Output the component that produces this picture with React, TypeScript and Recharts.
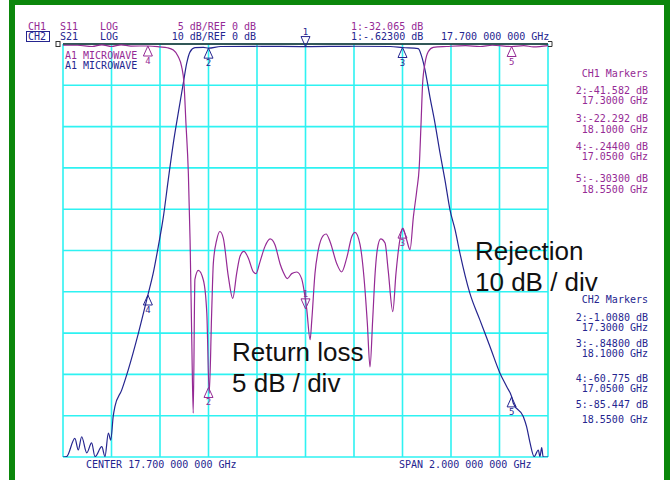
import { LineChart, Line, XAxis, YAxis, CartesianGrid, ReferenceLine, ReferenceDot } from "recharts";

// frequency axis (GHz), center 17.7, span 2
const freqTicks = [16.7, 16.9, 17.1, 17.3, 17.5, 17.7, 17.9, 18.1, 18.3, 18.5, 18.7];
const s11Ticks = [0, -5, -10, -15, -20, -25, -30, -35, -40, -45, -50];
const s21Ticks = [0, -10, -20, -30, -40, -50, -60, -70, -80, -90, -100];

// CH1 S11 (return loss), dB
const s11Freq = [
  16.7, 16.76, 16.82, 16.86, 16.9, 16.94, 16.98, 17.05, 17.1, 17.13, 17.155, 17.175, 17.189, 17.199,
  17.207, 17.217, 17.224, 17.231, 17.237, 17.244, 17.258, 17.279, 17.293, 17.303, 17.313, 17.32,
  17.334, 17.347, 17.361, 17.382, 17.4, 17.416, 17.43, 17.446, 17.464, 17.485, 17.496, 17.512,
  17.533, 17.554, 17.574, 17.595, 17.608, 17.625, 17.643, 17.664, 17.684, 17.698, 17.705, 17.719,
  17.726, 17.739, 17.753, 17.773, 17.785, 17.801, 17.829, 17.849, 17.87, 17.891, 17.904, 17.925,
  17.941, 17.955, 17.966, 17.977, 17.987, 17.996, 18.01, 18.028, 18.041, 18.06, 18.073, 18.087,
  18.101, 18.117, 18.131, 18.145, 18.159, 18.169, 18.176, 18.183, 18.193, 18.206, 18.227, 18.282,
  18.36, 18.42, 18.47, 18.55, 18.6, 18.64, 18.7,
];
const s11Db = [
  -0.15, -0.15, -0.3, -0.1, -0.3, -0.1, -0.25, -0.24, -0.35, -0.45, -0.73, -1.5, -2.7, -4.8,
  -9.6, -15.7, -23.7, -35.8, -44.7, -28.5, -27.4, -28.6, -32.6, -42.3, -32.6, -26.5,
  -23.7, -22.7, -23.5, -28.2, -30.8, -27.8, -25.7, -25.1, -25.9, -27.6, -27.8, -26.4,
  -24.5, -23.6, -24.3, -26.6, -27.6, -28.4, -27.8, -27.6, -28.4, -30.6, -32.1, -35.8,
  -33.4, -27.8, -24.9, -23.2, -23.0, -23.9, -26.6, -27.6, -25.9, -23.3, -22.8, -24.3,
  -28.2, -33.8, -39.1, -33.4, -27.8, -24.9, -23.6, -24.1, -27.4, -32.4, -27.8, -24.1,
  -22.3, -23.7, -24.9, -20.9, -17.7, -14.9, -10, -4.8, -2.3, -0.93, -0.4, -0.3,
  -0.2, -0.3, -0.15, -0.3, -0.2, -0.35, -0.2,
];

// CH2 S21 (rejection), dB
const s21Freq = [
  16.7, 16.715, 16.749, 16.763, 16.777, 16.798, 16.818, 16.832, 16.86, 16.873, 16.887, 16.897,
  16.907, 16.914, 16.942, 16.969, 17.011, 17.05, 17.072, 17.093, 17.114, 17.134, 17.155, 17.175,
  17.196, 17.21, 17.224, 17.244, 17.279, 17.3, 17.35, 17.5, 17.7, 17.9, 18.05, 18.1, 18.165,
  18.179, 18.193, 18.213, 18.234, 18.255, 18.275, 18.296, 18.317, 18.337, 18.378, 18.419, 18.461,
  18.502, 18.53, 18.55, 18.557, 18.598, 18.612, 18.626, 18.643, 18.66, 18.667, 18.674, 18.68, 18.7,
];
const s21Db = [
  -100, -99.9, -95.5, -98.3, -95.1, -99.0, -96.6, -99.9, -97.5, -99.9, -94.2, -95.9,
  -90.2, -87.8, -83.8, -78.9, -70, -60.8, -55.5, -49, -41.8, -32.9, -24, -16.8,
  -9.5, -4.7, -1.9, -0.9, -0.8, -1.0, -0.6, -0.55, -0.62, -0.55, -0.6, -0.85, -1.1,
  -3, -6.3, -12.8, -19.2, -26.5, -32.9, -40.2, -45, -50.7, -60.4, -66.8, -73.3,
  -79.7, -83, -85.4, -87, -90.2, -92.7, -96.6, -99.9, -98.3, -99.9, -97.7, -100, -100,
];

// markers 1..5
const markerIds = ["1", "2", "3", "4", "5"];
const markerFreq = [17.7, 17.3, 18.1, 17.05, 18.55];
const s11Marker = [-32.065, -41.582, -22.292, -0.244, -0.303];
const s21Marker = [-0.623, -1.008, -0.848, -60.775, -85.447];

const s11Data = s11Freq.map((f, i) => ({ f, db: s11Db[i] }));
const s21Data = s21Freq.map((f, i) => ({ f, db: s21Db[i] }));

const PURPLE = "#952a95";
const NAVY = "#25258f";
const CYAN = "#2ef2f2";
const MONO = "'DejaVu Sans Mono', monospace";

function Marker(props: any) {
  const { cx, cy, id, color, active } = props;
  if (cx == null || cy == null) return null;
  if (active) {
    return (
      <g>
        <path d={`M${cx},${cy} L${cx - 4.5},${cy - 10} L${cx + 4.5},${cy - 10} Z`} fill="none" stroke={color} strokeWidth={1} />
        <text x={cx} y={cy - 12} fontSize={9} fontFamily={MONO} fill={color} textAnchor="middle">{id}</text>
      </g>
    );
  }
  return (
    <g>
      <path d={`M${cx},${cy} L${cx - 4.5},${cy + 10} L${cx + 4.5},${cy + 10} Z`} fill="none" stroke={color} strokeWidth={1} />
      <text x={cx} y={cy + 18} fontSize={9} fontFamily={MONO} fill={color} textAnchor="middle">{id}</text>
    </g>
  );
}

export default function App() {
  const t = (x: number, y: number, s: string, color: string, anchor: "start" | "end" = "start") => (
    <text x={x} y={y} fill={color} fontFamily={MONO} fontSize={10} textAnchor={anchor}>{s}</text>
  );
  return (
    <div style={{ position: "absolute", left: 0, top: 0, width: 670, height: 480, background: "#fff", overflow: "hidden" }}>
      <LineChart width={670} height={480} data={s11Data} margin={{ top: 44, right: 122, bottom: 23, left: 63 }}>
        <XAxis hide type="number" dataKey="f" domain={[16.7, 18.7]} ticks={freqTicks} allowDataOverflow />
        <YAxis hide yAxisId="s11" domain={[-50, 0]} ticks={s11Ticks} allowDataOverflow />
        <YAxis hide yAxisId="s21" domain={[-100, 0]} ticks={s21Ticks} allowDataOverflow />
        <CartesianGrid yAxisId="s11" stroke={CYAN} strokeWidth={1.6} />
        <ReferenceLine yAxisId="s11" y={0} stroke="#222" strokeWidth={1.5} />
        <Line data={s21Data} yAxisId="s21" dataKey="db" type="monotoneX" stroke={NAVY} strokeWidth={1.2} dot={false} isAnimationActive={false} />
        <Line data={s11Data} yAxisId="s11" dataKey="db" type="monotoneX" stroke={PURPLE} strokeWidth={1.2} dot={false} isAnimationActive={false} />
        {markerFreq.map((f, i) => (
          <ReferenceDot key={"a" + i} yAxisId="s11" x={f} y={s11Marker[i]}
            shape={(p: any) => <Marker {...p} id={markerIds[i]} color={PURPLE} active={i === 0} />} />
        ))}
        {markerFreq.map((f, i) => (
          <ReferenceDot key={"b" + i} yAxisId="s21" x={f} y={s21Marker[i]}
            shape={(p: any) => <Marker {...p} id={markerIds[i]} color={NAVY} active={i === 0} />} />
        ))}
      </LineChart>
      <svg width={670} height={480} style={{ position: "absolute", left: 0, top: 0, pointerEvents: "none" }}>
        {/* green frame */}
        <rect x={9} y={0} width={661} height={5} fill="#0b870b" />
        <rect x={9} y={0} width={6} height={480} fill="#0b870b" />
        <rect x={664} y={0} width={6} height={480} fill="#0b870b" />
        {/* reference line ends */}
        <rect x={56} y={41.5} width={4} height={5} fill="none" stroke="#333" strokeWidth={1} />
        <path d="M548,41.5 L552,41.5 L552,46.5 L548,46.5" fill="none" stroke="#333" strokeWidth={1} />
        {/* header */}
        {t(28, 30, "CH1", PURPLE)}
        {t(60, 30, "S11", PURPLE)}
        {t(100, 30, "LOG", PURPLE)}
        {t(256, 30, "5 dB/REF 0 dB", PURPLE, "end")}
        {t(351, 30, "1:-32.065 dB", PURPLE)}
        <rect x={26.5} y={31.5} width={23} height={10} fill="none" stroke={NAVY} strokeWidth={1} />
        {t(28, 40, "CH2", NAVY)}
        {t(60, 40, "S21", NAVY)}
        {t(100, 40, "LOG", NAVY)}
        {t(256, 40, "10 dB/REF 0 dB", NAVY, "end")}
        {t(351, 40, "1:-.62300 dB", NAVY)}
        {t(441, 40, "17.700 000 000 GHz", NAVY)}
        {t(65, 59, "A1 MICROWAVE", PURPLE)}
        {t(65, 69, "A1 MICROWAVE", NAVY)}
        {/* CH1 markers */}
        {t(648, 77, "CH1 Markers", PURPLE, "end")}
        {t(648, 94, "2:-41.582 dB", PURPLE, "end")}
        {t(648, 104, "17.3000 GHz", PURPLE, "end")}
        {t(648, 122, "3:-22.292 dB", PURPLE, "end")}
        {t(648, 133, "18.1000 GHz", PURPLE, "end")}
        {t(648, 150, "4:-.24400 dB", PURPLE, "end")}
        {t(648, 160, "17.0500 GHz", PURPLE, "end")}
        {t(648, 182, "5:-.30300 dB", PURPLE, "end")}
        {t(648, 193, "18.5500 GHz", PURPLE, "end")}
        {/* CH2 markers */}
        {t(648, 303, "CH2 Markers", NAVY, "end")}
        {t(648, 321, "2:-1.0080 dB", NAVY, "end")}
        {t(648, 331, "17.3000 GHz", NAVY, "end")}
        {t(648, 347, "3:-.84800 dB", NAVY, "end")}
        {t(648, 357, "18.1000 GHz", NAVY, "end")}
        {t(648, 382, "4:-60.775 dB", NAVY, "end")}
        {t(648, 392, "17.0500 GHz", NAVY, "end")}
        {t(648, 408, "5:-85.447 dB", NAVY, "end")}
        {t(648, 423, "18.5500 GHz", NAVY, "end")}
        {/* footer */}
        {t(86, 468, "CENTER 17.700 000 000 GHz", NAVY)}
        {t(399, 468, "SPAN 2.000 000 000 GHz", NAVY)}
        {/* annotations */}
        <g fontFamily="'Liberation Sans', Arial, sans-serif" fontSize={26} fill="#111">
          <text x={232} y={361}>Return loss</text>
          <text x={232} y={392}>5 dB / div</text>
          <text x={475} y={260}>Rejection</text>
          <text x={475} y={291}>10 dB / div</text>
        </g>
      </svg>
    </div>
  );
}
